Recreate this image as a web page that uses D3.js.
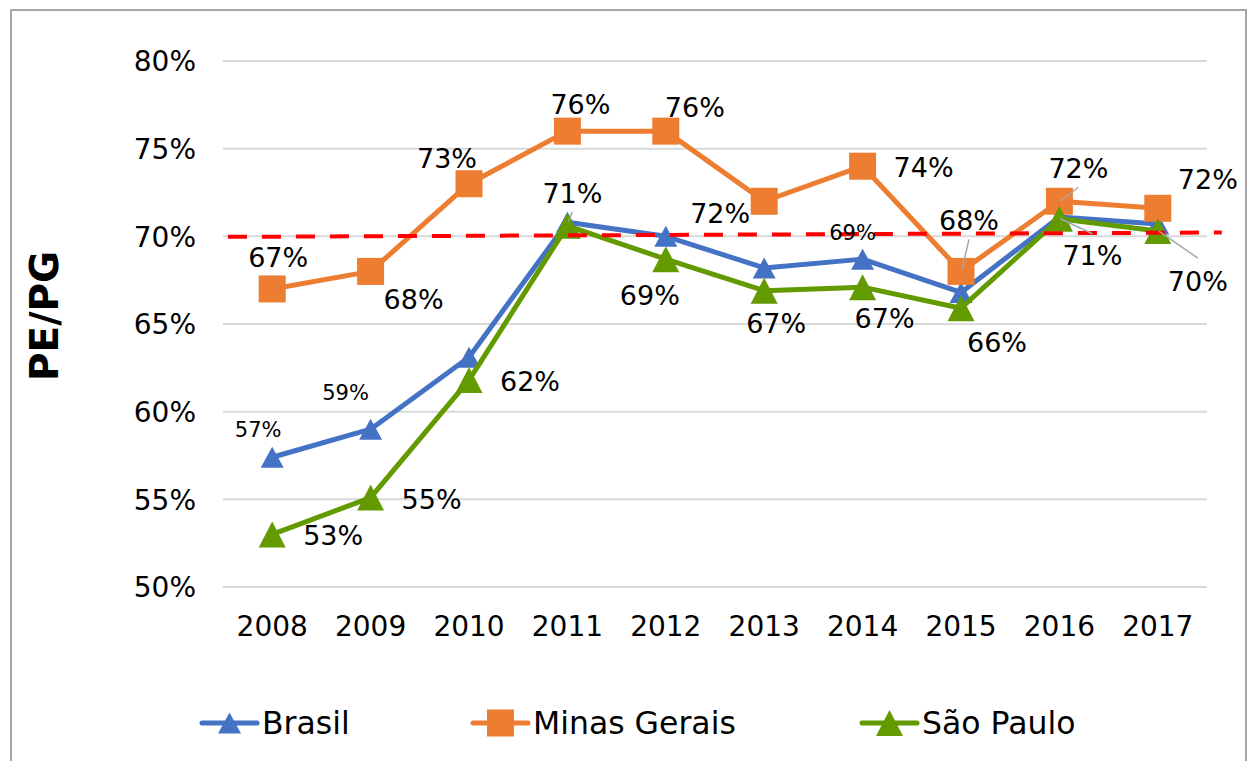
<!DOCTYPE html>
<html>
<head>
<meta charset="utf-8">
<script src="https://cdn.jsdelivr.net/npm/d3@7"></script>
<style>
  html, body { margin: 0; padding: 0; background: #fff; }
  svg { display: block; }
  text { font-family: "DejaVu Sans", Verdana, sans-serif; fill: #000; }
</style>
</head>
<body>
<svg id="chart" width="1248" height="761"></svg>
<script>
// ---------- data ----------
const years = ["2008","2009","2010","2011","2012","2013","2014","2015","2016","2017"];
const yTicks = [50, 55, 60, 65, 70, 75, 80];
const brasil = [57.4, 59.0, 63.1, 70.8, 70.0, 68.2, 68.7, 66.8, 71.1, 70.7];
const minasGerais = [67.0, 68.0, 73.0, 76.0, 76.0, 72.0, 74.0, 68.0, 72.0, 71.6];
const saoPaulo = [53.0, 55.1, 61.8, 70.6, 68.7, 66.9, 67.1, 65.9, 71.0, 70.3];
// red dashed reference line: [category position (index), value]
const refLine = [[-0.45, 69.97], [9.65, 70.22]];
const seriesNames = ["Brasil", "Minas Gerais", "São Paulo"];
const yTitle = "PE/PG";

// ---------- label layout (offsets from point, px) ----------
// [dx, dy] for label centre; leader: [x1,y1,x2,y2] relative to the point
const brasilLabels = [
  {i:0, d:[-14,-28]}, {i:1, d:[-25,-37]}, {i:6, d:[-10,-27]}
];
const mgLabels = [
  {i:0, d:[6,-32]}, {i:1, d:[43,28]}, {i:2, d:[-22,-25]}, {i:3, d:[13,-27]},
  {i:4, d:[29,-24]}, {i:5, d:[-44,12]}, {i:6, d:[61,1]},
  {i:7, d:[8,-51], leader:[1,-2,8,-32]}, {i:8, d:[19,-33], leader:[1,0,19,-14]},
  {i:9, d:[50,-29]}
];
const spLabels = [
  {i:0, d:[61,1]}, {i:1, d:[61,2]}, {i:2, d:[61,1]}, {i:3, d:[5,-33], leader:[1,-4,5,-14]},
  {i:4, d:[-16,36]}, {i:5, d:[12,33]}, {i:6, d:[22,31]}, {i:7, d:[36,34]},
  {i:8, d:[33,36], leader:[1,0,33,15]}, {i:9, d:[40,50], leader:[1,0,40,27]}
];

// ---------- setup ----------
const svg = d3.select("#chart");
const plot = {left: 223, right: 1207, top: 61, bottom: 587};

const x = d3.scaleBand().domain(years).range([plot.left, plot.right]);
const xc = d => x(d) + x.bandwidth() / 2;
const xi = d3.scaleLinear().domain([0, years.length - 1]).range([xc(years[0]), xc(years[years.length - 1])]);
const y = d3.scaleLinear().domain([50, 80]).range([plot.bottom, plot.top]);

// border
svg.append("rect").attr("x", 11).attr("y", 10).attr("width", 1235).attr("height", 760)
  .attr("fill", "#fff").attr("stroke", "#A6A6A6").attr("stroke-width", 2);

// gridlines
svg.append("g").selectAll("line").data(yTicks).join("line")
  .attr("x1", plot.left).attr("x2", plot.right)
  .attr("y1", d => y(d)).attr("y2", d => y(d))
  .attr("stroke", "#D9D9D9").attr("stroke-width", 2);

// y axis labels
const yAxis = d3.axisLeft(y).tickValues(yTicks).tickFormat(d => d + "%").tickSize(0).tickPadding(0);
const ya = svg.append("g").attr("transform", `translate(${plot.left - 27},0)`).call(yAxis);
ya.select(".domain").remove();
ya.selectAll("text").attr("font-size", 28).attr("font-family", "DejaVu Sans, Verdana, sans-serif").attr("fill", "#000").attr("dy", "0.35em");

// x axis labels
const xAxis = d3.axisBottom(x).tickSize(0).tickPadding(0);
const xa = svg.append("g").attr("transform", `translate(0,${plot.bottom + 39})`).call(xAxis);
xa.select(".domain").remove();
xa.selectAll("text").attr("font-size", 28).attr("font-family", "DejaVu Sans, Verdana, sans-serif").attr("fill", "#000").attr("dy", "0.35em");

// y title
svg.append("text").attr("transform", "translate(44,316) rotate(-90)")
  .attr("text-anchor", "middle").attr("dy", "0.36em")
  .attr("font-size", 39).attr("font-weight", "bold").text(yTitle);

// ---------- series ----------
const colors = {b: "#4472C4", m: "#ED7D31", s: "#629A00"};
const line = d3.line().x((d, i) => xi(i)).y(d => y(d));

function triPath(w, h) {
  return `M0,${-h/2}L${w/2},${h/2}L${-w/2},${h/2}Z`;
}

const seriesDefs = [
  {data: brasil, color: colors.b, marker: "tri", w: 23, h: 21},
  {data: minasGerais, color: colors.m, marker: "sq", w: 27, h: 27},
  {data: saoPaulo, color: colors.s, marker: "tri", w: 27, h: 26}
];

seriesDefs.forEach(s => {
  const g = svg.append("g");
  g.append("path").datum(s.data).attr("d", line)
    .attr("fill", "none").attr("stroke", s.color).attr("stroke-width", 5).attr("stroke-linejoin", "round");
  if (s.marker === "sq") {
    g.selectAll("rect").data(s.data).join("rect")
      .attr("x", (d, i) => xi(i) - s.w / 2).attr("y", d => y(d) - s.h / 2)
      .attr("width", s.w).attr("height", s.h).attr("fill", s.color);
  } else {
    g.selectAll("path.m").data(s.data).join("path").attr("class", "m")
      .attr("transform", (d, i) => `translate(${xi(i)},${y(d)})`)
      .attr("d", triPath(s.w, s.h)).attr("fill", s.color);
  }
});

// red dashed reference line
svg.append("path").datum(refLine)
  .attr("d", d3.line().x(d => xi(d[0])).y(d => y(d[1])))
  .attr("fill", "none").attr("stroke", "#FF0000").attr("stroke-width", 4)
  .attr("stroke-dasharray", "19,15");

// ---------- data labels ----------
function drawLabels(defs, data, size) {
  const g = svg.append("g");
  defs.forEach(l => {
    const px = xi(l.i), py = y(data[l.i]);
    if (l.leader) {
      g.append("line")
        .attr("x1", px + l.leader[0]).attr("y1", py + l.leader[1])
        .attr("x2", px + l.leader[2]).attr("y2", py + l.leader[3])
        .attr("stroke", "#A6A6A6").attr("stroke-width", 1.5);
    }
    g.append("text").attr("x", px + l.d[0]).attr("y", py + l.d[1])
      .attr("text-anchor", "middle").attr("dy", "0.36em")
      .attr("font-size", size).text(Math.round(data[l.i]) + "%");
  });
}
drawLabels(brasilLabels, brasil, 21);
drawLabels(mgLabels, minasGerais, 27);
drawLabels(spLabels, saoPaulo, 27);

// ---------- legend ----------
const legendItems = [
  {name: seriesNames[0], color: colors.b, marker: "tri", w: 23, h: 21, x0: 202},
  {name: seriesNames[1], color: colors.m, marker: "sq", w: 27, h: 27, x0: 473},
  {name: seriesNames[2], color: colors.s, marker: "tri", w: 27, h: 26, x0: 862}
];
const ly = 723;
legendItems.forEach(it => {
  const g = svg.append("g");
  g.append("line").attr("x1", it.x0).attr("x2", it.x0 + 55).attr("y1", ly).attr("y2", ly)
    .attr("stroke", it.color).attr("stroke-width", 5).attr("stroke-linecap", "round");
  const cx = it.x0 + 27.5;
  if (it.marker === "sq") {
    g.append("rect").attr("x", cx - it.w / 2).attr("y", ly - it.h / 2)
      .attr("width", it.w).attr("height", it.h).attr("fill", it.color);
  } else {
    g.append("path").attr("transform", `translate(${cx},${ly})`)
      .attr("d", triPath(it.w, it.h)).attr("fill", it.color);
  }
  g.append("text").attr("x", it.x0 + 60).attr("y", ly).attr("dy", "0.36em")
    .attr("font-size", 31.5).text(it.name);
});
</script>
</body>
</html>
